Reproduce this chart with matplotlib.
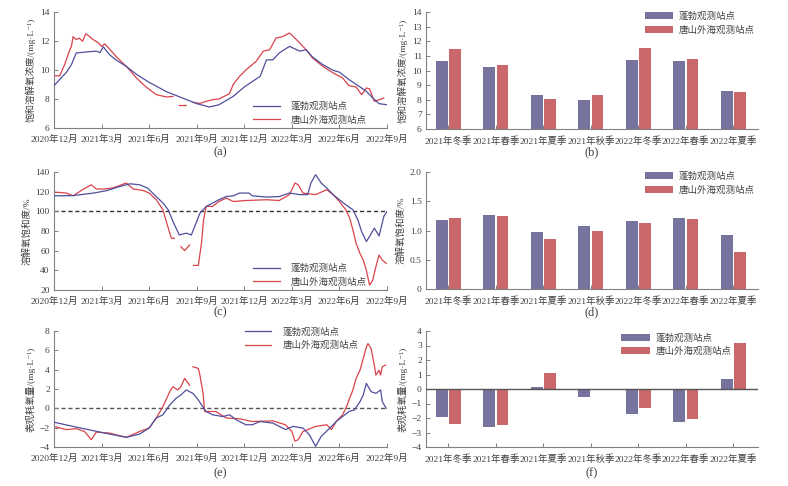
import numpy as np
import matplotlib
matplotlib.use("Agg")
import matplotlib.pyplot as plt

plt.rcParams['font.family'] = ['Liberation Serif', 'Noto Sans CJK SC', 'DejaVu Sans']
plt.rcParams['axes.unicode_minus'] = False

# ---------------- data ----------------
month_ticks = [0, 3, 6, 9, 12, 15, 18, 21]
month_labels = ['2020年12月', '2021年3月', '2021年6月', '2021年9月',
                '2021年12月', '2022年3月', '2022年6月', '2022年9月']
seasons = ['2021年冬季', '2021年春季', '2021年夏季', '2021年秋季',
           '2022年冬季', '2022年春季', '2022年夏季']
name_pb = '蓬勃观测站点'
name_ts = '唐山外海观测站点'

# (a) saturated DO concentration, mg/L
a_pb_t = [0, 0.78, 1.1, 1.4, 2.0, 2.67, 2.9, 3.1, 3.5, 3.9, 4.56, 5.2, 6.0, 7.1, 8.1, 9.0,
          9.8, 10.4, 11.3, 12.0, 12.5, 13.0, 13.4, 13.8, 14.2, 14.85, 15.5, 15.9, 16.3,
          16.95, 17.6, 18.0, 18.6, 19.3, 19.7, 20.1, 20.5, 21.0]
a_pb_v = [8.92, 9.84, 10.37, 11.17, 11.24, 11.3, 11.2, 11.6, 11.06, 10.7, 10.25, 9.7, 9.15,
          8.5, 8.07, 7.68, 7.45, 7.6, 8.18, 8.83, 9.2, 9.56, 10.7, 10.7, 11.17, 11.63, 11.3,
          11.4, 10.9, 10.37, 9.98, 9.85, 9.34, 8.83, 8.53, 8.07, 7.68, 7.6]
a_ts_t = [0.1, 0.36, 0.67, 1.0, 1.1, 1.2, 1.4, 1.6, 1.8, 2.0, 2.25, 2.46, 2.77, 3.0, 3.2,
          3.5, 3.9, 4.56, 5.2, 5.8, 6.45, 7.1, 7.5, 7.7, 7.9, 8.34, 8.6, 8.76, 9.2, 9.6,
          10.0, 10.4, 11.07, 11.3, 11.7, 12.1, 12.75, 13.2, 13.6, 14.0, 14.4, 14.85, 15.1,
          15.5, 15.9, 16.3, 16.95, 17.6, 18.2, 18.6, 19.05, 19.4, 19.7, 19.9, 20.2, 20.5, 20.8]
a_ts_v = [9.6, 9.6, 10.37, 11.4, 11.63, 12.3, 12.1, 12.2, 11.98, 12.5, 12.3, 12.1, 11.9,
          11.63, 11.8, 11.45, 10.95, 10.25, 9.45, 8.83, 8.3, 8.14, 8.18, np.nan, 7.55, 7.55,
          np.nan, 7.77, 7.7, 7.84, 7.95, 8.0, 8.37, 9.0, 9.56, 10.0, 10.6, 11.3, 11.4, 12.2,
          12.3, 12.55, 12.3, 11.86, 11.4, 10.83, 10.25, 9.8, 9.45, 8.92, 8.83, 8.3, 8.76,
          8.7, 7.84, 7.95, 8.07]

# (c) DO saturation, %
c_pb_t = [0, 1.2, 2.5, 3.3, 4.1, 4.8, 5.4, 5.9, 6.45, 6.9, 7.2, 7.5, 7.9, 8.34, 8.66, 8.87,
          9.2, 9.6, 10.0, 10.4, 10.86, 11.3, 11.7, 12.3, 12.5, 13.4, 14.2, 14.85, 15.5, 16.0,
          16.2, 16.5, 16.85, 17.2, 17.6, 18.0, 18.4, 18.85, 19.16, 19.4, 19.7, 19.9, 20.2,
          20.5, 20.8, 21.0]
c_pb_v = [115.8, 116, 118.6, 121, 125, 128, 127, 123.7, 115, 108, 101.6, 89.7, 76, 77.8,
          76, 84.5, 98, 105, 108.4, 111.8, 115, 115.8, 118.6, 118.6, 115.8, 114.5, 115,
          118.6, 117, 117, 128.8, 137.3, 128.8, 123.7, 117, 111.8, 106.7, 101.6, 91.4, 79.4,
          69.3, 74.4, 82.9, 75, 94.8, 100]
c_ts_t = [0, 0.78, 1.2, 1.8, 2.35, 2.67, 3.1, 3.7, 4.56, 5.0, 5.6, 6.0, 6.45, 6.87, 7.08,
          7.4, 7.6, 7.8, 8.0, 8.24, 8.55, 8.7, 8.8, 9.1, 9.3, 9.43, 9.6, 10.0, 10.4, 10.86,
          11.3, 12.1, 13.4, 14.2, 14.85, 15.2, 15.4, 15.7, 16.5, 17.2, 17.6, 18.0, 18.4,
          18.65, 18.85, 19.05, 19.3, 19.5, 19.7, 19.9, 20.1, 20.3, 20.5, 20.7, 20.95]
c_ts_v = [119.6, 118.6, 115.8, 122, 127, 122.7, 122.7, 123.7, 128.8, 122.7, 121.3, 118.6,
          111.8, 101.6, 89.7, 72.6, 72.6, np.nan, 64, 60, 65.8, np.nan, 45, 45, 67.5, 91,
          105, 105, 110, 113.5, 110, 111, 111.8, 111, 117, 128.8, 127, 118.6, 117, 122, 117,
          110, 101.6, 93, 81, 67.5, 57, 50.5, 40, 25, 30, 43.7, 55.6, 50.5, 47]

# (e) apparent oxygen utilization, mg/L
e_pb_t = [0, 1.2, 2.5, 3.5, 4.56, 5.4, 6.0, 6.45, 6.87, 7.3, 7.7, 8.0, 8.34, 8.76, 9.1, 9.3,
          9.6, 10.0, 10.65, 11.07, 11.5, 12.1, 12.5, 13.0, 13.8, 14.6, 15.06, 15.7, 16.1,
          16.5, 16.85, 17.4, 17.8, 18.2, 18.6, 18.95, 19.3, 19.5, 19.7, 20.0, 20.3, 20.6,
          20.7, 20.95]
e_pb_v = [-1.43, -1.87, -2.32, -2.66, -3.0, -2.66, -2.04, -1.0, -0.67, 0.36, 1.04, 1.38,
          1.9, 1.55, 0.87, 0.36, -0.33, -0.67, -0.85, -0.67, -1.19, -1.7, -1.7, -1.36, -1.53,
          -2.2, -1.87, -2.04, -2.73, -3.93, -2.9, -2.04, -1.36, -0.85, -0.33, -0.16, 0.7,
          1.38, 2.58, 1.72, 1.55, 1.9, 0.7, 0.0]
e_ts_t = [0, 0.78, 1.4, 1.93, 2.35, 2.67, 3.5, 4.56, 5.4, 6.0, 6.45, 6.87, 7.3, 7.5, 7.8,
          8.0, 8.24, 8.55, 8.65, 8.76, 9.1, 9.2, 9.4, 9.5, 9.8, 10.2, 10.86, 11.7, 12.5,
          13.8, 14.6, 15.0, 15.2, 15.4, 15.7, 16.5, 17.2, 17.5, 17.8, 18.2, 18.5, 18.6,
          18.85, 19.05, 19.3, 19.5, 19.7, 19.8, 20.0, 20.2, 20.3, 20.5, 20.6, 20.7, 20.9]
e_ts_v = [-1.87, -2.2, -2.1, -2.4, -3.24, -2.46, -2.56, -3.0, -2.4, -2.04, -1.0, 0.18,
          1.72, 2.24, 1.9, 2.24, 3.1, 2.4, np.nan, 4.3, 4.13, 3.44, 1.55, -0.33, -0.33,
          -0.33, -1.0, -1.08, -1.36, -1.3, -1.7, -2.4, -3.4, -3.24, -2.4, -1.87, -1.7, -2.2,
          -1.36, -0.67, 0.36, 0.87, 1.9, 3.1, 3.95, 5.15, 6.35, 6.7, 6.18, 4.47, 3.44, 3.95,
          3.44, 4.3, 4.47]

# seasonal bars
b_pb = [10.65, 10.25, 8.3, 8.0, 10.72, 10.68, 8.6]
b_ts = [11.48, 10.38, 8.07, 8.3, 11.55, 10.77, 8.55]
d_pb = [1.18, 1.26, 0.98, 1.07, 1.16, 1.22, 0.92]
d_ts = [1.21, 1.24, 0.86, 1.0, 1.12, 1.20, 0.64]
f_pb = [-1.9, -2.6, 0.15, -0.55, -1.7, -2.25, 0.68]
f_ts = [-2.4, -2.5, 1.08, 0.03, -1.3, -2.1, 3.15]

# ---------------- style ----------------
LINE_BLUE = '#4f4f9c'
LINE_RED = '#d9434b'
BAR_BLUE = '#77739f'
BAR_RED = '#c9676a'
SPINE = '#808080'
TXT = '#404040'
FS = 6.8

W, H = 788, 486
fig = plt.figure(figsize=(W / 100, H / 100), dpi=100)


def rect(l, r, t, b):
    return [l / W, 1 - b / H, (r - l) / W, (b - t) / H]


def style(ax):
    for s in ['top', 'right']:
        ax.spines[s].set_visible(False)
    for s in ['left', 'bottom']:
        ax.spines[s].set_color(SPINE)
        ax.spines[s].set_linewidth(0.8)
    ax.tick_params(direction='in', length=3, width=0.7, color=SPINE,
                   labelsize=FS, labelcolor=TXT)
    ax.tick_params(axis='x', pad=5)
    ax.tick_params(axis='y', pad=3)


ylab_mg = '/(mg·L⁻¹)'

# line panels
line_specs = [
    (rect(54, 387, 12, 128), a_pb_t, a_pb_v, a_ts_t, a_ts_v, (6, 14), [6, 8, 10, 12, 14],
     '饱和溶解氧浓度' + ylab_mg, None, '(a)', 152),
    (rect(54, 387, 172, 290), c_pb_t, c_pb_v, c_ts_t, c_ts_v, (20, 140),
     [20, 40, 60, 80, 100, 120, 140], '溶解氧饱和度/%', 100, '(c)', 312),
    (rect(54, 387, 331, 447), e_pb_t, e_pb_v, e_ts_t, e_ts_v, (-4, 8),
     [-4, -2, 0, 2, 4, 6, 8], '表观耗氧量' + ylab_mg, 0, '(e)', 473),
]
for i, (rc, t1, v1, t2, v2, ylim, yt, ylab, ref, letter, ly) in enumerate(line_specs):
    ax = fig.add_axes(rc)
    style(ax)
    if ref is not None:
        ax.axhline(ref, color='#333333' if ref == 100 else '#555555', lw=1.0,
                   ls=(0, (3, 2)), zorder=1)
    ax.plot(t1, v1, color=LINE_BLUE, lw=0.9, label=name_pb, zorder=3)
    ax.plot(t2, v2, color=LINE_RED, lw=0.9, label=name_ts, zorder=2)
    ax.set_xlim(0, 21)
    ax.set_ylim(*ylim)
    ax.set_xticks(month_ticks)
    ax.set_xticklabels(month_labels)
    ax.set_yticks(yt)
    ax.set_yticklabels([str(v).replace('-', '−') for v in yt])
    ax.set_ylabel(ylab, fontsize=FS, color=TXT, labelpad=3)
    if i == 2:
        leg = ax.legend(loc='upper right', bbox_to_anchor=(0.915, 1.03), frameon=False,
                        fontsize=FS, handlelength=2.8, labelspacing=0.45,
                        borderaxespad=0, borderpad=0, handletextpad=1.2)
    else:
        leg = ax.legend(loc='lower right', bbox_to_anchor=(0.94, 0.03), frameon=False,
                        fontsize=FS, handlelength=2.8, labelspacing=0.45,
                        borderaxespad=0, borderpad=0, handletextpad=1.2)
    for tx in leg.get_texts():
        tx.set_color(TXT)
    fig.text(220 / W, 1 - ly / H, letter, ha='center', va='center', fontsize=9, color=TXT)

# bar panels
bar_specs = [
    (rect(426, 758, 12, 129), b_pb, b_ts, (6, 14), list(range(6, 15)),
     [str(v) for v in range(6, 15)], '饱和溶解氧浓度' + ylab_mg, False, '(b)', 152,
     (0.99, 1.0)),
    (rect(426, 758, 172, 289), d_pb, d_ts, (0, 2.0), [0, 0.5, 1.0, 1.5, 2.0],
     ['0', '0.5', '1.0', '1.5', '2.0'], '溶解氧饱和度/%', False, '(d)', 312, (0.99, 1.0)),
    (rect(426, 758, 331, 447), f_pb, f_ts, (-4, 4), list(range(-4, 5)),
     [str(v).replace('-', '−') for v in range(-4, 5)], '表观耗氧量' + ylab_mg, True,
     '(f)', 473, (0.92, 0.98)),
]
x = np.arange(len(seasons))
bw = 0.25
for rc, pb, ts, ylim, yt, ytl, ylab, zero, letter, ly, anc in bar_specs:
    ax = fig.add_axes(rc)
    style(ax)
    ax.bar(x - 0.14, pb, width=bw, color=BAR_BLUE, label=name_pb, zorder=2)
    ax.bar(x + 0.14, ts, width=bw, color=BAR_RED, label=name_ts, zorder=2)
    if zero:
        ax.axhline(0, color='#555555', lw=1.0, zorder=3)
    ax.set_xlim(-0.47, 6.52)
    ax.set_ylim(*ylim)
    ax.set_xticks(x)
    ax.set_xticklabels(seasons)
    ax.set_yticks(yt)
    ax.set_yticklabels(ytl)
    ax.set_ylabel(ylab, fontsize=FS, color=TXT, labelpad=3)
    leg = ax.legend(loc='upper right', bbox_to_anchor=anc, frameon=False, fontsize=FS,
                    handlelength=3.0, handleheight=0.75, labelspacing=0.45,
                    borderaxespad=0, borderpad=0, handletextpad=0.6)
    for tx in leg.get_texts():
        tx.set_color(TXT)
    fig.text(592 / W, 1 - ly / H, letter, ha='center', va='center', fontsize=9, color=TXT)

fig.savefig('out.png', dpi=100, facecolor='white')
